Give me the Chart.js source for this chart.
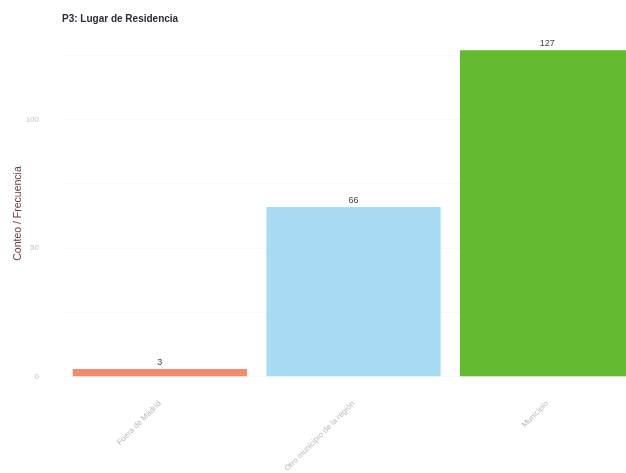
<!DOCTYPE html>
<html>
<head>
<meta charset="utf-8">
<script src="https://cdn.jsdelivr.net/npm/chart.js@4"></script>
<style>
  html, body { margin: 0; padding: 0; background: #fff; overflow: hidden; }
  #wrap { width: 680px; height: 473px; }
</style>
</head>
<body>
<div id="wrap"><canvas id="myChart" width="680" height="473"></canvas></div>
<script>
// Chart data
let lugares = ['Fuera de Madrid', 'Otro municipio de la región', 'Municipio'];
let conteos = [3, 66, 127];
let colores = ['#f48a6e', '#a8dcf3', '#63b930'];
let yTicks = [0, 25, 50, 75, 100, 125];

// Title and value labels on top of the bars
const extras = {
    id: 'extras',
    afterDatasetsDraw(chart) {
        const ctx = chart.ctx;
        ctx.save();
        ctx.fillStyle = '#2b2b3a';
        ctx.font = 'bold 10px "Liberation Sans", Arial, sans-serif';
        ctx.textAlign = 'left';
        ctx.textBaseline = 'alphabetic';
        ctx.fillText('P3: Lugar de Residencia', 62, 22);

        ctx.font = '9px "Liberation Sans", Arial, sans-serif';
        ctx.fillStyle = '#444';
        ctx.textAlign = 'center';
        chart.getDatasetMeta(0).data.forEach((bar, i) => {
            ctx.fillText(conteos[i], bar.x, bar.y - 4);
        });
        ctx.restore();
    }
};

const config = {
    type: 'bar',
    data: {
        labels: lugares,
        datasets: [{
            data: conteos,
            backgroundColor: colores,
            barPercentage: 0.9,
            categoryPercentage: 1.0
        }]
    },
    options: {
        responsive: false,
        animation: false,
        layout: { padding: { top: 34, left: 0, right: 36, bottom: 0 } },
        plugins: {
            legend: { display: false },
            tooltip: { enabled: false }
        },
        scales: {
            x: {
                grid: { display: false, drawTicks: false },
                border: { display: false },
                ticks: {
                    minRotation: 45,
                    maxRotation: 45,
                    padding: 6,
                    color: '#b8b8b8',
                    font: { size: 8, family: '"Liberation Sans", Arial, sans-serif' }
                },
                afterFit(scale) { scale.height = 80; }
            },
            y: {
                min: -6.35,
                max: 133.35,
                afterBuildTicks(scale) {
                    scale.ticks = yTicks.map(v => ({ value: v }));
                },
                grid: { color: '#f8f8f8', drawTicks: false },
                border: { display: false },
                ticks: {
                    padding: 24,
                    color: '#c4c4c4',
                    font: { size: 8, family: '"Liberation Sans", Arial, sans-serif' },
                    callback: v => (v % 50 === 0 ? v : '')
                },
                title: {
                    display: true,
                    text: 'Conteo / Frecuencia',
                    color: '#6e3b3b',
                    padding: { top: 12, bottom: 0 },
                    font: { size: 10.5, family: '"Liberation Sans", Arial, sans-serif' }
                },
                afterFit(scale) { scale.width = 63; }
            }
        }
    },
    plugins: [extras]
};

const theChart = new Chart(document.getElementById('myChart').getContext('2d'), config);
</script>
</body>
</html>
